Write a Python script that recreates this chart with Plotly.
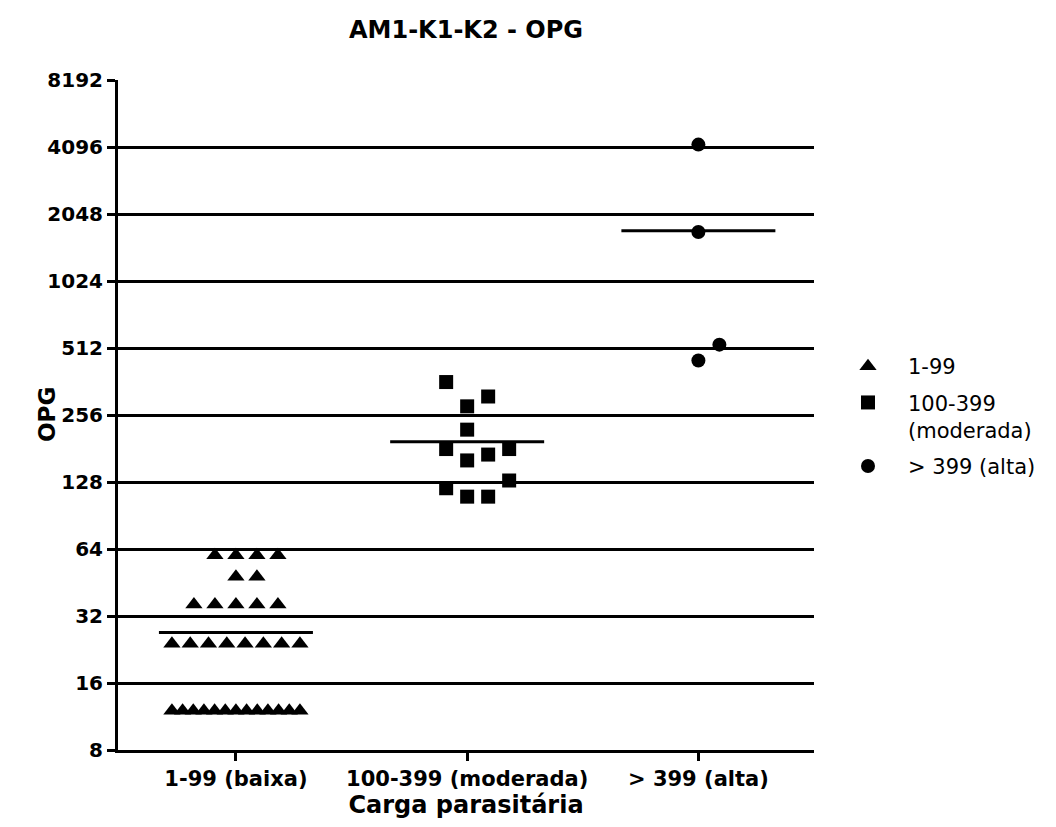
import numpy as np
import plotly.graph_objects as go

# ---------------- data ----------------
title_text = "AM1-K1-K2 - OPG"
x_title = "Carga parasitária"
y_title = "OPG"
categories = ["1-99 (baixa)", "100-399 (moderada)", "> 399 (alta)"]
legend_names = ["1-99", "100-399<br>(moderada)", "> 399 (alta)"]
opg_baixa = [12, 12, 12, 12, 12, 12, 12, 12, 12, 12, 12, 12, 12,
             24, 24, 24, 24, 24, 24, 24, 24,
             36, 36, 36, 36, 36,
             48, 48,
             60, 60, 60, 60]
opg_moderada = [360, 310, 280, 220, 180, 180, 170, 160, 130, 120, 110, 110]
opg_alta = [4200, 1700, 530, 450]
y_tick_values = [8, 16, 32, 64, 128, 256, 512, 1024, 2048, 4096, 8192]

# ---------------- layout geometry ----------------
W, H = 1056, 827
M_L, M_R, M_T, M_B = 118, 242, 80, 77
X_RANGE = [-0.51, 2.5]
plot_w = W - M_L - M_R
plot_h = H - M_T - M_B
px_per_unit = plot_w / (X_RANGE[1] - X_RANGE[0])
px_per_log2 = plot_h / (np.log2(y_tick_values[-1]) - np.log2(y_tick_values[0]))


def swarm(values, center, min_gap=16.0, step=21.0, max_span=128.0):
    """Arrange the points of one column in rows (scatter dot plot style)."""
    vals = sorted(values, reverse=True)
    rows = []
    prev = None
    for v in vals:
        ypx = np.log2(v) * px_per_log2
        if rows and prev - ypx < min_gap:
            rows[-1].append(v)
        else:
            rows.append([v])
        prev = ypx
    xs, ys = [], []
    for row in rows:
        row = sorted(row)
        n = len(row)
        if (n - 1) * step <= max_span:
            # slots 0, +1, -1, +2, -2 ...
            slots = [((k + 1) // 2) * (1 if k % 2 else -1) for k in range(n)]
            offs = [s * step for s in slots]
        else:
            sp = max_span / (n - 1)
            offs = [(k - (n - 1) / 2) * sp for k in range(n)]
        for v, o in zip(row, offs):
            xs.append(center + o / px_per_unit)
            ys.append(v)
    return xs, ys


groups = [opg_baixa, opg_moderada, opg_alta]
symbols = ["triangle-up", "square", "circle"]
sizes = [15, 14, 14]

fig = go.Figure()
for i, (vals, sym, sz, name) in enumerate(zip(groups, symbols, sizes, legend_names)):
    xs, ys = swarm(vals, i)
    fig.add_trace(go.Scatter(
        x=xs, y=ys, mode="markers", name=name, legendgroup=str(i),
        marker=dict(symbol=sym, size=sz, color="black", line=dict(width=0)),
        hoverinfo="y",
    ))

for i, vals in enumerate(groups):
    m = float(np.mean(vals))
    fig.add_trace(go.Scatter(
        x=[i - 0.333, i + 0.333], y=[m, m], mode="lines",
        line=dict(color="black", width=3), showlegend=False, hoverinfo="skip",
    ))

font_family = "DejaVu Sans, Liberation Sans, Arial, sans-serif"

fig.update_layout(
    width=W, height=H,
    margin=dict(l=M_L, r=M_R, t=M_T, b=M_B),
    paper_bgcolor="white", plot_bgcolor="white",
    font=dict(family=font_family, color="black"),
    title=dict(text="<b>" + title_text + "</b>", x=(M_L + plot_w / 2) / W, xanchor="center",
               y=1 - 30 / H, yanchor="middle", font=dict(size=24, family=font_family)),
    showlegend=True,
    legend=dict(
        x=(828 - M_L) / plot_w, xanchor="left", y=1 - (346 - M_T) / plot_h, yanchor="top",
        font=dict(size=21, family=font_family), valign="top",
        traceorder="grouped", tracegroupgap=6, itemwidth=70,
        bgcolor="rgba(0,0,0,0)",
    ),
    annotations=[dict(
        text="<b>" + y_title + "</b>", textangle=-90, showarrow=False,
        xref="paper", yref="paper", x=(47 - M_L) / plot_w, y=1 - (415 - M_T) / plot_h,
        xanchor="center", yanchor="middle", font=dict(size=23, family=font_family),
    )],
)

fig.update_xaxes(
    range=X_RANGE, tickmode="array", tickvals=[0, 1, 2],
    ticktext=["<b>%s</b>" % c for c in categories],
    showgrid=False, zeroline=False, showline=True, linecolor="black", linewidth=3,
    ticks="outside", ticklen=8, tickwidth=3, tickcolor="black",
    tickfont=dict(size=21, family=font_family), ticklabelstandoff=0,
    title=dict(text="<b>" + x_title + "</b>", font=dict(size=24, family=font_family), standoff=0),
)

fig.update_yaxes(
    type="log", range=[np.log10(y_tick_values[0]), np.log10(y_tick_values[-1])],
    tickmode="array", tickvals=y_tick_values, ticktext=["<b>%d</b>" % v for v in y_tick_values],
    showgrid=True, gridcolor="black", gridwidth=3, zeroline=False,
    showline=True, linecolor="black", linewidth=3,
    ticks="outside", ticklen=8, tickwidth=3, tickcolor="black",
    tickfont=dict(size=20, family=font_family),
)

fig.write_html("out.html")
